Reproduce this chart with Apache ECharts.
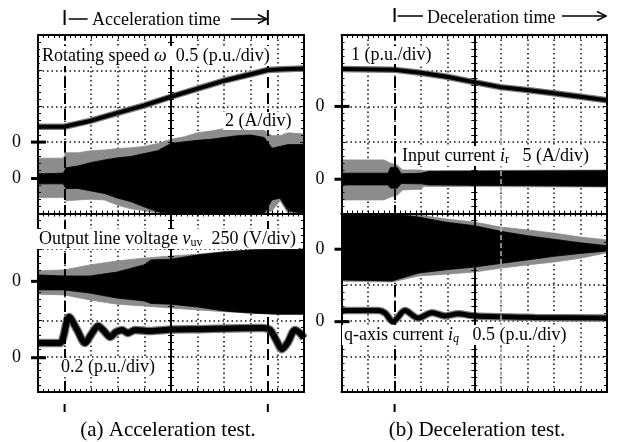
<!DOCTYPE html>
<html>
<head>
<meta charset="utf-8">
<script src="https://cdn.jsdelivr.net/npm/echarts@6/dist/echarts.min.js"></script>
<style>
  html, body { margin: 0; padding: 0; background: #fff; }
  #main { width: 617px; height: 442px; }
</style>
</head>
<body>
<div id="main"></div>
<script>
// screen is 10 x 10 divisions, time in divisions from the left edge
var accelMarks = [1, 8.64];
var decelMarks = [2];
var cursorB = [6];

// zero level of each trace, in divisions above the bottom of the screen
// order: speed, input current, line voltage, q-axis current
var zerosA = [7, 5.98, 3.1, 0.96];
var zerosB = [8, 5.96, 4.0, 1.97];

// (a) acceleration test, values in divisions relative to the trace zero
var speedA = [[0, 0.43], [0.98, 0.43], [2, 0.6], [3, 0.82], [4, 1.03], [5, 1.27],
  [6, 1.5], [7, 1.72], [8, 1.9], [8.64, 2.02], [9.2, 2.04], [10, 2.06]];
// envelopes [t, lower, upper]
var currentA_gray = [[0, -0.53, 0.57], [0.95, -0.53, 0.57], [1.05, -0.62, 0.72], [1.5, -0.6, 0.72],
  [2, -0.58, 0.78], [2.5, -0.6, 0.8], [3, -0.75, 0.84], [3.5, -0.85, 0.86], [4, -0.9, 0.9],
  [4.5, -0.98, 0.98], [5, -0.98, 1.1], [5.5, -0.98, 1.17], [6, -0.98, 1.28], [6.5, -0.98, 1.33],
  [7, -0.98, 1.4], [7.5, -0.98, 1.42], [8, -0.98, 1.4], [8.5, -0.98, 1.35], [8.8, -0.9, 1.2],
  [9.1, -0.62, 1.2], [9.4, -0.98, 1.28], [10, -0.98, 1.25]];
var currentA_black = [[0, -0.15, 0.13], [0.95, -0.15, 0.15], [1.05, -0.28, 0.3], [1.5, -0.28, 0.35],
  [2, -0.35, 0.45], [2.5, -0.42, 0.52], [3, -0.55, 0.58], [3.5, -0.65, 0.62], [4, -0.8, 0.7],
  [4.5, -0.93, 0.78], [5, -0.98, 0.98], [5.5, -0.98, 1.03], [6, -0.98, 1.07], [6.5, -0.98, 1.1],
  [7, -0.98, 1.15], [7.5, -0.98, 1.2], [8, -0.98, 1.22], [8.5, -0.98, 1.15], [8.8, -0.6, 0.85],
  [9.1, -0.55, 0.9], [9.4, -0.9, 0.95], [10, -0.98, 0.95]];
var voltageA_gray = [[0, -0.36, 0.29], [0.98, -0.38, 0.32], [1.95, -0.52, 0.46], [2.97, -0.64, 0.57],
  [3.98, -0.69, 0.65], [5, -0.75, 0.71], [6, -0.8, 0.76], [7, -0.85, 0.83], [8, -0.89, 0.88],
  [9, -0.92, 0.9], [10, -0.92, 0.9]];
var voltageA_black = [[0, -0.24, 0.18], [0.98, -0.24, 0.15], [1.95, -0.33, 0.15], [2.97, -0.47, 0.26],
  [3.98, -0.55, 0.46], [4.25, -0.62, 0.6], [5, -0.64, 0.62], [6, -0.72, 0.74], [7, -0.83, 0.82],
  [8, -0.89, 0.88], [9, -0.92, 0.9], [10, -0.92, 0.9]];
var iqA = [[0, 0.41], [0.83, 0.41], [0.94, 0.55], [1.17, 1.14], [1.47, 0.78], [1.77, 0.41], [1.99, 0.64],
  [2.26, 0.89], [2.48, 0.75], [2.71, 0.58], [2.93, 0.72], [3.16, 0.78], [3.38, 0.69], [3.65, 0.78],
  [4.21, 0.75], [5.0, 0.79], [6.09, 0.8], [7.22, 0.82], [8.42, 0.83], [8.72, 0.78], [8.95, 0.5],
  [9.17, 0.24], [9.4, 0.44], [9.66, 0.78], [9.85, 0.69], [10, 0.55]];

// (b) deceleration test
var speedB = [[0, 1.05], [1.94, 1.03], [2.98, 0.94], [3.97, 0.83], [4.99, 0.68], [5.99, 0.54],
  [6.99, 0.46], [8.0, 0.37], [9.01, 0.27], [10, 0.17]];
var currentB_gray = [[0, -0.58, 0.54], [1.6, -0.58, 0.54], [1.85, -0.5, 0.45], [2.1, -0.45, 0.4],
  [2.3, -0.3, 0.26], [3.0, -0.28, 0.26], [3.1, -0.2, 0.24], [10, -0.22, 0.26]];
var currentB_black = [[0, -0.16, 0.17], [1.75, -0.16, 0.17], [1.85, -0.25, 0.33], [2.1, -0.25, 0.33],
  [2.25, -0.12, 0.15], [3.0, -0.13, 0.17], [3.3, -0.16, 0.22], [10, -0.2, 0.24]];
var voltageB_gray = [[0, -0.9, 1.0], [1.9, -0.92, 1.0], [2.9, -0.75, 0.96], [3.9, -0.7, 0.85],
  [5, -0.64, 0.76], [6, -0.53, 0.62], [7, -0.44, 0.54], [8, -0.36, 0.45], [9, -0.25, 0.34], [10, -0.1, 0.26]];
var voltageB_black = [[0, -0.86, 1.0], [1.9, -0.89, 0.99], [2.9, -0.67, 0.9], [3.9, -0.58, 0.76],
  [5, -0.5, 0.66], [6, -0.4, 0.5], [7, -0.3, 0.38], [8, -0.2, 0.28], [9, -0.12, 0.18], [10, -0.05, 0.1]];
var iqB = [[0, 0.31], [1.39, 0.31], [1.64, 0.24], [1.94, 0.0], [2.39, 0.31], [2.88, 0.1], [3.41, 0.25],
  [3.9, 0.16], [4.39, 0.22], [5.03, 0.16], [7.29, 0.12], [10, 0.1]];

var FONT = '"Liberation Serif", "Times New Roman", serif';
var GRAY = '#8c8c8c';

var chart = echarts.init(document.getElementById('main'));

function panelAxes(dim, g) {
  var lo = dim === 'x' ? 'bottom' : 'left';
  var hi = dim === 'x' ? 'top' : 'right';
  var ink = {color: '#000', width: 1};
  function ax(extra) {
    return Object.assign({
      gridIndex: g, type: 'value', min: -5, max: 5, interval: 1, silent: true,
      axisLabel: {show: false}, splitLine: {show: false}
    }, extra);
  }
  return [
    // dotted graticule, under the traces
    ax({position: lo, z: 0, axisLine: {show: false, onZero: false}, axisTick: {show: false},
      splitLine: {show: true, lineStyle: {color: '#111', width: 1.5, type: [1.5, 3]}}}),
    // frame
    ax({position: lo, z: 10, axisLine: {onZero: false, lineStyle: {color: '#000', width: 2}},
      axisTick: {inside: true, length: 4, lineStyle: ink},
      minorTick: {show: true, splitNumber: 5, length: 3, lineStyle: ink}}),
    ax({position: hi, z: 10, axisLine: {onZero: false, lineStyle: {color: '#000', width: 2}},
      axisTick: {inside: true, length: 4, lineStyle: ink},
      minorTick: {show: true, splitNumber: 5, length: 3, lineStyle: ink}}),
    // centre cross, ticks on both sides
    ax({position: lo, z: 10, axisLine: {onZero: true, onZeroAxisIndex: g * 5, lineStyle: {color: '#000', width: 2}},
      axisTick: {inside: true, length: 3, lineStyle: ink},
      minorTick: {show: true, splitNumber: 5, length: 3, lineStyle: ink}}),
    ax({position: lo, z: 10, axisLine: {onZero: true, onZeroAxisIndex: g * 5, lineStyle: {color: '#000', width: 2}},
      axisTick: {inside: false, length: 3, lineStyle: ink},
      minorTick: {show: true, splitNumber: 5, length: 3, lineStyle: ink}})
  ];
}

// filled envelope of a dense waveform, drawn as one polygon through the axes
function band(g, pts, zero, color) {
  var a = g * 5;
  var data = pts.map(function (p) { return [p[0] - 5, zero + p[1] - 5, zero + p[2] - 5]; });
  return {
    type: 'custom', xAxisIndex: a, yAxisIndex: a, silent: true, z: 2, clip: true,
    data: data, encode: {x: 0, y: [1, 2]},
    renderItem: function (params, api) {
      if (params.dataIndex !== 0) return null;
      var top = [], bot = [];
      data.forEach(function (d) {
        top.push(api.coord([d[0], d[2]]));
        bot.push(api.coord([d[0], d[1]]));
      });
      return {
        type: 'polygon', shape: {points: top.concat(bot.reverse())},
        style: {fill: color, stroke: color, lineWidth: 0.8}
      };
    }
  };
}

function trace(g, pts, zero, width, smooth) {
  var a = g * 5;
  var data = pts.map(function (p) { return [p[0] - 5, zero + p[1] - 5]; });
  return [{
    type: 'line', xAxisIndex: a, yAxisIndex: a, data: data, symbol: 'none', silent: true, z: 3,
    smooth: smooth, lineStyle: {width: width + 2.5, color: '#777'}
  }, {
    type: 'line', xAxisIndex: a, yAxisIndex: a, data: data, symbol: 'none', silent: true, z: 3,
    smooth: smooth, lineStyle: {width: width, color: '#000'}
  }];
}

function markers(g, marks, grayMarks) {
  var a = g * 5;
  var lines = marks.map(function (t) { return {xAxis: t - 5}; });
  (grayMarks || []).forEach(function (t) {
    lines.push([{coord: [t - 5, -5], lineStyle: {color: '#b4b4b4', width: 1.5, type: [5, 3]}},
      {coord: [t - 5, 2.5]}]);
  });
  return {
    type: 'line', xAxisIndex: a, yAxisIndex: a, data: [], z: 4, silent: true,
    markLine: {
      symbol: ['none', 'none'], silent: true, animation: false, label: {show: false},
      lineStyle: {color: '#000', width: 2, type: [11, 5]}, data: lines
    }
  };
}

var series = [].concat(
  band(0, currentA_gray, zerosA[1], GRAY),
  band(0, currentA_black, zerosA[1], '#000'),
  band(0, voltageA_gray, zerosA[2], GRAY),
  band(0, voltageA_black, zerosA[2], '#000'),
  trace(0, speedA, zerosA[0], 4, false),
  trace(0, iqA, zerosA[3], 6, 0.3),
  band(1, currentB_gray, zerosB[1], GRAY),
  band(1, currentB_black, zerosB[1], '#000'),
  band(1, voltageB_gray, zerosB[2], GRAY),
  band(1, voltageB_black, zerosB[2], '#000'),
  trace(1, speedB, zerosB[0], 4, false),
  trace(1, iqB, zerosB[3], 5, 0.3),
  [markers(0, accelMarks), markers(1, decelMarks, cursorB)]
);

chart.setOption({
  animation: false,
  backgroundColor: '#fff',
  grid: [
    {left: 38, top: 35, width: 266, height: 357, outerBoundsMode: 'none'},
    {left: 341.5, top: 35, width: 265.5, height: 357, outerBoundsMode: 'none'}
  ],
  xAxis: panelAxes('x', 0).concat(panelAxes('x', 1)),
  yAxis: panelAxes('y', 0).concat(panelAxes('y', 1)),
  series: series
});

// annotations placed from the axes
function toPx(g, t, v) {
  return chart.convertToPixel({xAxisIndex: g * 5, yAxisIndex: g * 5}, [t - 5, v - 5]);
}

function txt(x, y, text, size, align, extra) {
  return {
    type: 'text', x: x, y: y, z: 100, silent: true,
    style: Object.assign({
      text: text, fill: '#000', font: size + 'px ' + FONT,
      align: align || 'left', verticalAlign: 'middle'
    }, extra || {})
  };
}
function seg(x1, y1, x2, y2, w) {
  return {type: 'line', z: 100, silent: true, shape: {x1: x1, y1: y1, x2: x2, y2: y2},
    style: {stroke: '#000', lineWidth: w || 1.5}};
}
function arrowHead(x, y) {
  return {type: 'polyline', z: 100, silent: true,
    shape: {points: [[x - 9, y - 4.5], [x, y], [x - 9, y + 4.5]]},
    style: {stroke: '#000', lineWidth: 1.5, fill: null}};
}

var els = [];
[[0, zerosA], [1, zerosB]].forEach(function (pz) {
  pz[1].forEach(function (z) {
    var p = toPx(pz[0], 0, z);
    els.push(seg(p[0] - 7, p[1], p[0] + 8, p[1], 3));
    els.push(txt(p[0] - 17, p[1], '0', 18, 'right'));
  });
});

// time spans above the screens and ticks below
var a0 = toPx(0, accelMarks[0], 0)[0], a1 = toPx(0, accelMarks[1], 0)[0];
var d0 = toPx(1, decelMarks[0], 0)[0];
els.push(seg(a0, 10, a0, 25, 2), seg(a0 + 4, 19, a0 + 23, 19, 1.5));
els.push(txt(92, 20.5, 'Acceleration time', 18, 'left'));
els.push(seg(231, 19, a1 - 1, 19, 1.5), arrowHead(a1 - 1, 19), seg(a1, 10, a1, 25, 2));
els.push(seg(d0, 8, d0, 22, 2), seg(d0 + 3, 16, 423, 16, 1.5));
els.push(txt(427, 18, 'Deceleration time', 18, 'left'));
els.push(seg(562, 16, 606, 16, 1.5), arrowHead(606, 16));
els.push(seg(a0, 404, a0, 412, 2), seg(a1, 404, a1, 412, 2), seg(d0, 404, d0, 412, 2));

var boxed = {backgroundColor: '#fff', padding: [0, 2]};
var it = 'italic 18px ' + FONT;
var sub = {font: '12px ' + FONT, lineHeight: 10, verticalAlign: 'bottom'};
var subI = {font: 'italic 12px ' + FONT, lineHeight: 10, verticalAlign: 'bottom'};
var richStyle = function () {
  return Object.assign({lineHeight: 20, rich: {i: {font: it, lineHeight: 20}, s: sub, si: subI}}, boxed);
};

els.push(txt(40, 56, 'Rotating speed {i|ω}  0.5 (p.u./div)', 18, 'left', richStyle()));
els.push(txt(223, 121, '2 (A/div)', 18, 'left', boxed));
els.push(txt(37, 239, 'Output line voltage {i|v}{s|uv}  250 (V/div)', 18, 'left', richStyle()));
els.push(txt(59, 367, '0.2 (p.u./div)', 18, 'left', boxed));
els.push(txt(349, 55, '1 (p.u./div)', 18, 'left', boxed));
els.push(txt(400, 156, 'Input current {i|i}{s|r}   5 (A/div)', 18, 'left', richStyle()));
els.push(txt(342, 335, 'q-axis current {i|i}{si|q}   0.5 (p.u./div)', 18, 'left', richStyle()));
els.push(txt(168, 430, '(a) Acceleration test.', 21, 'center'));
els.push(txt(477, 430, '(b) Deceleration test.', 21, 'center'));

chart.setOption({graphic: {elements: els}});
</script>
</body>
</html>
